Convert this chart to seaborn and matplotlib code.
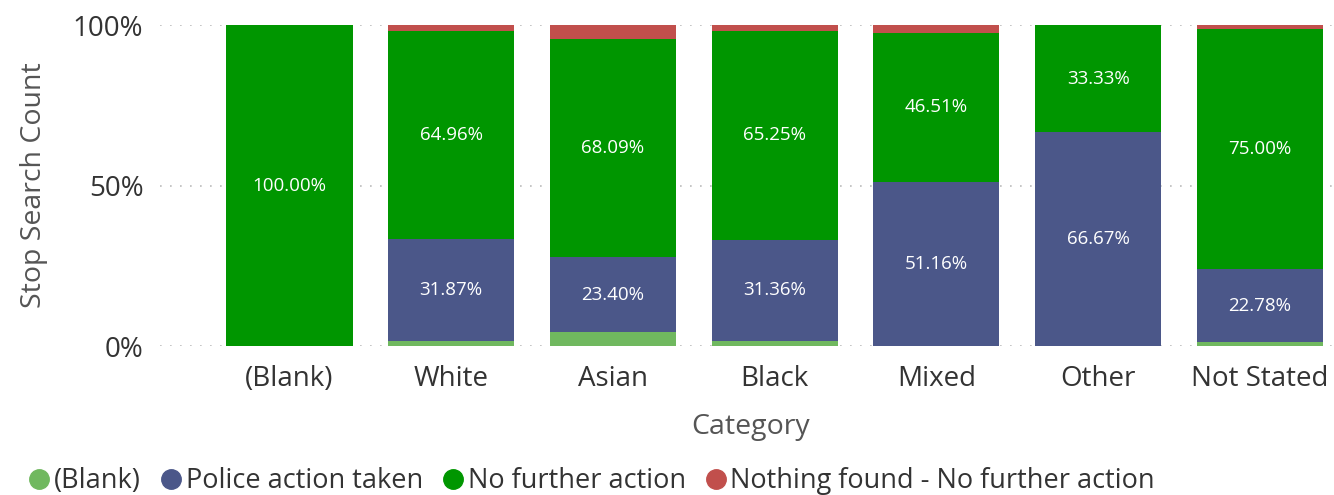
import numpy as np
import pandas as pd
import matplotlib
matplotlib.use("Agg")
import matplotlib.pyplot as plt
import seaborn as sns
from matplotlib.lines import Line2D

categories = ["(Blank)", "White", "Asian", "Black", "Mixed", "Other", "Not Stated"]
series = ["(Blank)", "Police action taken", "No further action",
          "Nothing found - No further action"]

# shares in percent
blank_pct   = [0.00, 1.50, 4.26, 1.70, 0.00, 0.00, 1.11]
police_pct  = [0.00, 31.87, 23.40, 31.36, 51.16, 66.67, 22.78]
nfa_pct     = [100.00, 64.96, 68.09, 65.25, 46.51, 33.33, 75.00]
nothing_pct = [0.00, 1.67, 4.25, 1.69, 2.33, 0.00, 1.11]

colors = ["#70b85f", "#4b5789", "#009600", "#c14f4c"]

sns.set_theme(style="white")
plt.rcParams["font.family"] = ["Open Sans", "DejaVu Sans"]

df = pd.DataFrame({"Category": categories,
                   series[0]: blank_pct, series[1]: police_pct,
                   series[2]: nfa_pct, series[3]: nothing_pct})

fig = plt.figure(figsize=(13.34, 4.95), dpi=100)
ax = fig.add_axes([0.12, 0.301, 0.885, 0.648])

bottom = np.zeros(len(categories))
for name, col in zip(series, colors):
    vals = df[name].to_numpy()
    sns.barplot(data=df, x="Category", y=name, color=col, width=0.78,
                bottom=bottom, ax=ax, saturation=1, linewidth=0, zorder=3)
    for i, v in enumerate(vals):
        if v > 10:
            ax.text(i, bottom[i] + v / 2, f"{v:.2f}%", ha="center", va="center",
                    color="white", fontsize=13.5, zorder=5)
    bottom = bottom + vals

ax.set_ylim(0, 100)
ax.set_xlim(-0.8, 6.5)
ax.set_yticks([0, 50, 100])
ax.set_yticklabels(["0%", "50%", "100%"])
for y in [0, 50, 100]:
    ax.axhline(y, color="#bbbbbb", linestyle=(0, (1, 5)), linewidth=1.2, zorder=1)
ax.grid(False)
for s in ax.spines.values():
    s.set_visible(False)
ax.tick_params(axis="both", length=0, labelsize=20, colors="#333333")
ax.tick_params(axis="x", pad=14)
ax.tick_params(axis="y", pad=12)
ax.set_xlabel("Category", fontsize=20.5, color="#555555", labelpad=14)
ax.set_ylabel("Stop Search Count", fontsize=20.5, color="#555555", labelpad=18)

handles = [Line2D([0], [0], marker="o", color="none", markerfacecolor=c,
                  markeredgecolor=c, markersize=14) for c in colors]
fig.legend(handles, series, loc="lower left", bbox_to_anchor=(0.0, -0.05),
           ncol=4, frameon=False, fontsize=19.5, handletextpad=0.0,
           columnspacing=0.55, handlelength=1.1, labelcolor="#333333")

fig.savefig("out.png", dpi=100)
